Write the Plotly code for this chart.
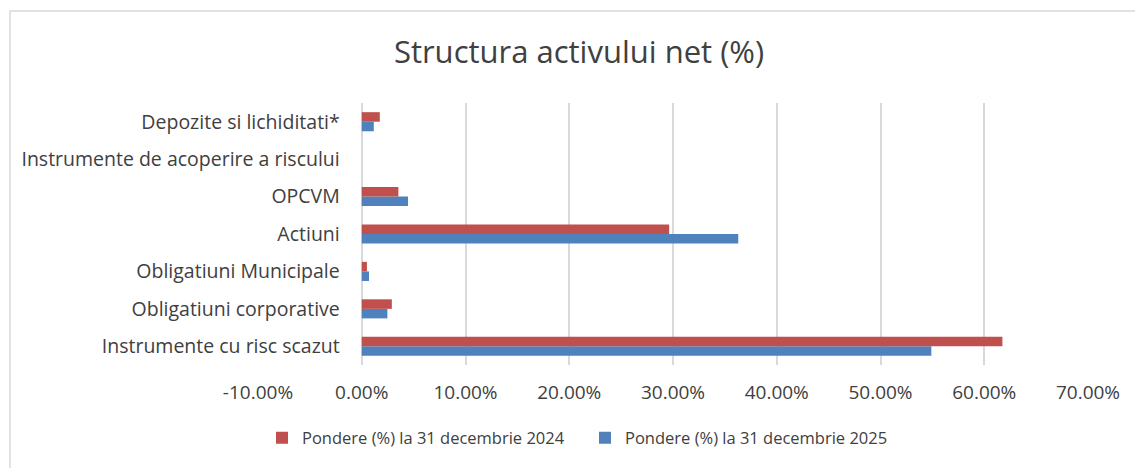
import plotly.graph_objects as go

# Categories listed bottom-to-top (as drawn)
categories = [
    "Instrumente cu risc scazut",
    "Obligatiuni corporative",
    "Obligatiuni Municipale",
    "Actiuni",
    "OPCVM",
    "Instrumente de acoperire a riscului",
    "Depozite si lichiditati*",
]
pondere_2024 = [0.6175, 0.029, 0.005, 0.2963, 0.0353, 0.0, 0.0174]
pondere_2025 = [0.549, 0.0247, 0.007, 0.3629, 0.0446, 0.0, 0.0116]
series_names = ["Pondere (%) la 31 decembrie 2024", "Pondere (%) la 31 decembrie 2025"]
x_ticks = [-0.1, 0.0, 0.1, 0.2, 0.3, 0.4, 0.5, 0.6, 0.7]
x_tick_labels = ["-10.00%", "0.00%", "10.00%", "20.00%", "30.00%",
                 "40.00%", "50.00%", "60.00%", "70.00%"]

RED = "#C0504D"
BLUE = "#4F81BD"
TXT = "#404040"
FONT = "Open Sans"

W, H = 1135, 468
ML, MR, MT, MB = 258, 47, 103, 103

fig = go.Figure()
fig.add_trace(go.Bar(
    y=categories, x=pondere_2025, orientation="h", name=series_names[1],
    marker=dict(color=BLUE, line=dict(width=0)), legendrank=2,
))
fig.add_trace(go.Bar(
    y=categories, x=pondere_2024, orientation="h", name=series_names[0],
    marker=dict(color=RED, line=dict(width=0)), legendrank=1,
))

pw = W - ML - MR
ph = H - MT - MB
def px_x(p):
    return (p - ML) / pw
def px_y(p):
    return (H - MB - p) / ph

fig.update_layout(
    width=W, height=H,
    margin=dict(l=ML, r=MR, t=MT, b=MB),
    paper_bgcolor="white", plot_bgcolor="white",
    barmode="group", bargap=0.49, bargroupgap=0.0,
    font=dict(family=FONT, color=TXT),
    title=dict(text="Structura activului net (%)", x=579 / W, xref="container",
               y=1 - 52 / H, yanchor="middle", xanchor="center",
               font=dict(size=31, color=TXT, family=FONT)),
    xaxis=dict(range=[-0.1, 0.7], tickvals=x_ticks, ticktext=x_tick_labels,
               showgrid=True, gridcolor="#D9D9D9", gridwidth=1.5,
               zeroline=False, showline=False, ticks="",
               ticklabelstandoff=14,
               tickfont=dict(size=19, color=TXT, family=FONT), fixedrange=True),
    yaxis=dict(anchor="free", position=0.125, showgrid=False, zeroline=False,
               showline=False, ticks="", ticklabelstandoff=22,
               categoryorder="array", categoryarray=categories,
               tickfont=dict(size=19.5, color=TXT, family=FONT), fixedrange=True),
    legend=dict(orientation="h", x=262 / W, xanchor="left", xref="container",
                y=1 - 438 / H, yref="container", yanchor="middle",
                font=dict(size=16.5, color=TXT, family=FONT),
                itemwidth=30, tracegroupgap=0, entrywidthmode="pixels",
                entrywidth=278),
    showlegend=True,
    shapes=[dict(type="rect", xref="paper", yref="paper",
                 x0=px_x(10), x1=px_x(W + 20), y0=px_y(H + 20), y1=px_y(11),
                 line=dict(color="#D9D9D9", width=1.5), layer="below")],
)

fig.write_html("out.html", config={"displayModeBar": False},
               post_script="document.body.style.margin='0px';")
